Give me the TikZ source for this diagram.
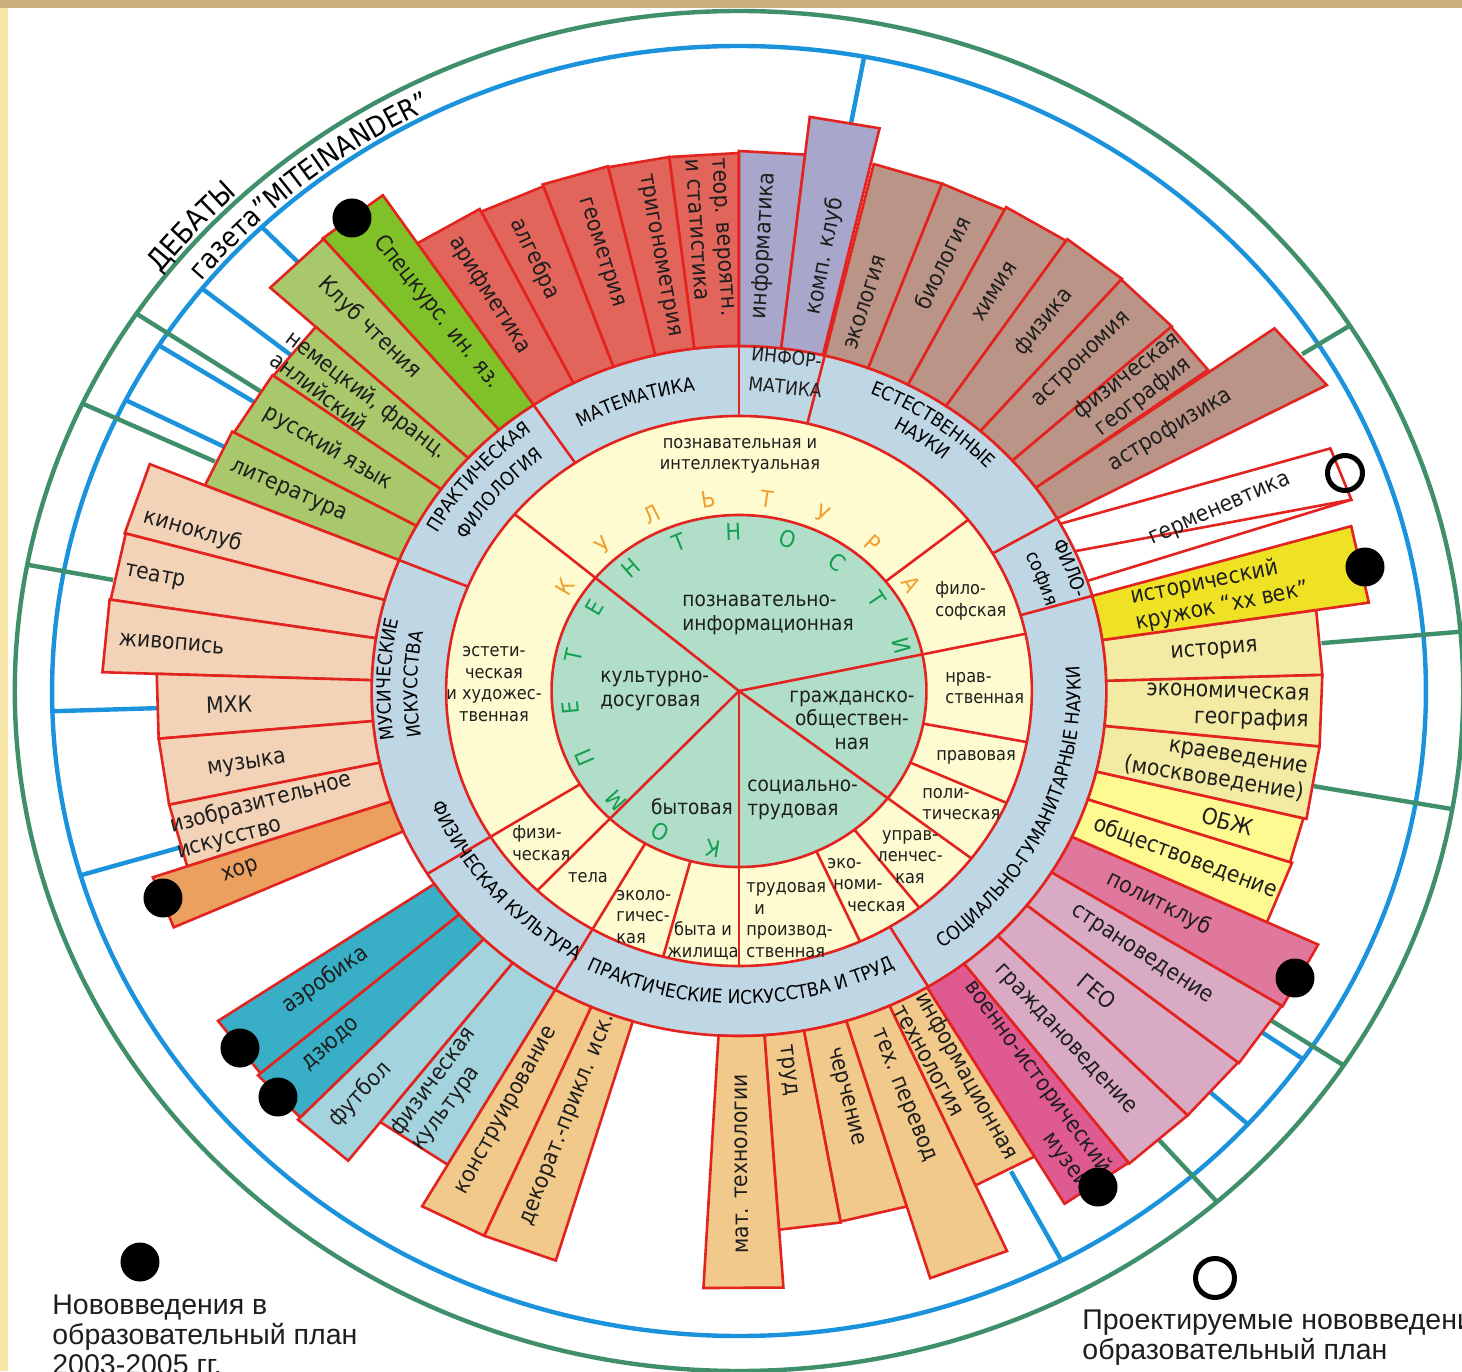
\documentclass[tikz,border=0pt]{standalone}
\usepackage{fontspec}
\setmainfont{DejaVu Sans}[FakeStretch=0.9]
\newfontfamily\legfont{Liberation Sans}
\usetikzlibrary{decorations.text}
\definecolor{cred}{HTML}{E2231F}
\definecolor{cblue}{HTML}{1A93DC}
\definecolor{cgreen}{HTML}{3F8F6B}
\definecolor{cyellow}{HTML}{FFFBD0}
\definecolor{cmint}{HTML}{B0DEC9}
\definecolor{cring}{HTML}{BFD6E4}
\definecolor{cmath}{HTML}{E1655B}
\definecolor{cinf}{HTML}{A8A6CA}
\definecolor{cnat}{HTML}{BA9487}
\definecolor{cspec}{HTML}{80C028}
\definecolor{cphil}{HTML}{A9C86B}
\definecolor{cmus}{HTML}{F2D3B8}
\definecolor{chor}{HTML}{EBA060}
\definecolor{cteal}{HTML}{38AFC6}
\definecolor{clteal}{HTML}{A3D3DC}
\definecolor{ctan}{HTML}{F1C98B}
\definecolor{cmil}{HTML}{E05A92}
\definecolor{cpink}{HTML}{D8AAC3}
\definecolor{cpol}{HTML}{E0789E}
\definecolor{cyl}{HTML}{FFF992}
\definecolor{ckh}{HTML}{F3EBA4}
\definecolor{chist}{HTML}{EFE224}
\definecolor{corange}{HTML}{F0A030}
\definecolor{cgtext}{HTML}{12A050}
\definecolor{ctext}{HTML}{1E1E1E}
\definecolor{cframe}{HTML}{C9B07A}
\definecolor{cside}{HTML}{F8E6A8}
\newcommand\rfont{\fontsize{9.5}{11}\selectfont}
\newcommand\wb[4]{\path[barsty,fill=#1] (#2:345) -- (#2:#4) -- (#3:#4) -- (#3:345) arc (#3:#2:345) -- cycle;}
\tikzset{
  rl/.style={draw=cred, line width=1.3pt},
  barsty/.style={draw=cred, line width=1.3pt, line join=miter},
  bline/.style={draw=cblue, line width=2.2pt},
  gline/.style={draw=cgreen, line width=2.2pt},
  ro/.style={rotate={atan2(sin(#1),1.065*cos(#1))}},
  ri/.style={rotate={atan2(sin(#1),1.065*cos(#1))+180}},
  lt/.style={rotate={atan2(sin(#1),1.065*cos(#1))-90}},
  blab/.style={font=\fontsize{11.3}{13.2}\selectfont, inner sep=0pt, text=ctext},
  ylab/.style={font=\fontsize{9}{10.8}\selectfont, inner sep=0pt, text=ctext, align=center},
  glab/.style={font=\fontsize{10.3}{11.7}\selectfont, inner sep=0pt, text=ctext, align=center},
  kl/.style={font=\fontsize{11.5}{13}\selectfont, inner sep=0pt},
  legf/.style={font=\legfont\fontsize{14.25}{15}\selectfont, inner sep=0pt, text=ctext},
  rtext/.style={decorate, decoration={text along path, text align=center, text={|\rfont|#1}}},
  blackdot/.style={circle, fill=black, minimum size=19.5pt, inner sep=0pt},
  hollowdot/.style={circle, draw=black, line width=2.5pt, minimum size=17.5pt, inner sep=0pt},
}
\begin{document}
\begin{tikzpicture}[x=0.5325pt,y=0.5pt]
\useasboundingbox (-369.5pt,-340pt) rectangle (361.5pt,345.5pt);
% ---------- frame (pixel scope) ----------
\begin{scope}[x=0.5pt,y=-0.5pt]
  \fill[white] (-739,-691) rectangle (723,680);
  \fill[cside] (-739,-691) rectangle (-731,680);
  \fill[cframe] (-739,-691) rectangle (723,-683);
\end{scope}
% ---------- outer circles ----------
\draw[gline] (0,0) circle (680);
\draw[bline] (0,0) circle (645);
% ---------- radial connectors ----------
\draw[bline] (134:596) -- (134:645);
\draw[bline] (141.4:539) -- (141.4:645);
\draw[bline] (147.6:538) -- (147.6:645);
\draw[bline] (153.2:542) -- (153.2:645);
\draw[bline] (181.8:547) -- (181.8:645);
\draw[bline] (196.6:545) -- (196.6:645);
\draw[bline] (298:544) -- (298:645);
\draw[bline] (317.8:598) -- (317.8:645);
\draw[bline] (325.2:597) -- (325.2:645);
\draw[bline] (79.5:578) -- (79.5:645);
\draw[gline] (146.3:540) -- (146.3:680);
\draw[gline] (155:543) -- (155:680);
\draw[gline] (169.3:598) -- (169.3:680);
\draw[gline] (311.3:598) -- (311.3:680);
\draw[gline] (326.6:599) -- (326.6:680);
\draw[gline] (350:548) -- (350:680);
\draw[gline] (5:549) -- (5:680);
\draw[gline] (32.5:627) -- (32.5:680);
% ---------- rings ----------
\fill[cring] (0,0) circle (345);
\fill[cyellow] (0,0) circle (275);
\fill[cmint] (0,0) circle (176);
\foreach \ang in {140,12,322.5,270,226.5} {\draw[rl] (0,0) -- (\ang:275);}
\foreach \ang in {212,240} {\draw[rl] (\ang:176) -- (\ang:345);}
\foreach \ang in {38.5,349.3,336,308,294.4,255} {\draw[rl] (\ang:176) -- (\ang:275);}
\foreach \ang in {124,90,76.5,30,16,301,157.7} {\draw[rl] (\ang:275) -- (\ang:345);}
\draw[rl] (0,0) circle (176);
\draw[rl] (0,0) circle (275);
\draw[rl] (0,0) circle (345);
% ---------- bars ----------
% mathematics
\wb{cmath}{90}{97}{538}
\wb{cmath}{97}{103.2}{538}
\wb{cmath}{103.2}{110}{539}
\wb{cmath}{110}{116.8}{537}
\wb{cmath}{116.8}{124}{540}
% informatics
\wb{cinf}{83.4}{90}{540}
\wb{cinf}{76.8}{83.4}{578}
% natural sciences
\wb{cnat}{69.4}{76.5}{542}
\wb{cnat}{62.6}{69.4}{542}
\wb{cnat}{55.7}{62.6}{545}
\wb{cnat}{48.9}{55.7}{547}
\wb{cnat}{41.9}{48.9}{546}
\wb{cnat}{36.1}{41.9}{545}
\path[barsty,fill=cnat] (30:345) -- (29:631) -- (35.8:620) -- (36.1:345) arc (36.1:30:345) -- cycle;
% philosophy
\path[barsty,fill=white] (29:345) -- (23.6:606) -- (18.4:606) -- (23.9:345) arc (23.9:29:345) -- cycle;
\draw[rl] (18.6:345) -- (18.4:606);
% philology
\wb{cspec}{124}{130.8}{598}
\wb{cphil}{130.8}{137.5}{597}
\wb{cphil}{137.5}{144.2}{539}
\wb{cphil}{144.2}{151.4}{540}
\wb{cphil}{151.4}{157.7}{542}
% arts
\wb{cmus}{157.7}{164.7}{598}
\wb{cmus}{164.7}{171.2}{597}
\wb{cmus}{171.2}{178.2}{598}
\wb{cmus}{178.2}{185}{547}
\wb{cmus}{185}{192}{547}
\wb{cmus}{192}{198.7}{547}
\wb{chor}{198.7}{204}{581}
% physical
\wb{cteal}{214}{220.4}{590}
\wb{cteal}{220.4}{226}{593}
\wb{clteal}{226}{232}{596}
\wb{clteal}{232}{240}{547}
% practical
\wb{ctan}{240}{246.3}{595}
\wb{ctan}{246.3}{253.2}{595}
\wb{ctan}{266.8}{274}{598}
\wb{ctan}{274}{280.2}{540}
\wb{ctan}{280.2}{287}{539}
\wb{ctan}{287}{294.2}{614}
\wb{ctan}{294.2}{300.8}{542}
% social
\wb{cmil}{300.8}{307.8}{597}
\wb{cpink}{307.8}{314.8}{598}
\wb{cpink}{314.8}{321.6}{598}
\wb{cpink}{321.6}{328.3}{599}
\wb{cpol}{328.3}{335}{600}
\wb{cyl}{335}{341.7}{547}
\wb{cyl}{341.7}{346.5}{545}
\wb{ckh}{346.5}{354.2}{548}
\wb{ckh}{354.2}{361.7}{548}
\wb{ckh}{361.7}{368.5}{548}
\wb{chist}{368.5}{376}{598}
% ---------- bar labels ----------
\node[blab, ri=120.6] (l1) at (120.6:460) {арифметика};
\node[blab, ri=113.9] (l2) at (113.9:473) {алгебра};
\node[blab, ri=106.5] (l3) at (106.5:457) {геометрия};
\node[blab, ri=99.8] (l4) at (99.8:442) {тригонометрия};
\node[blab, ri=93.4, align=left] (l5) at (93.4:454) {теор. вероятн.\\и статистика};
\node[blab, ro=87] (l6) at (87:446) {информатика};
\node[blab, ro=79.5] (l7) at (79.5:442) {комп. клуб};
\node[blab, ro=73] (l8) at (73:406) {экология};
\node[blab, ro=66] (l9) at (66:469) {биология};
\node[blab, ro=59] (l10) at (59:466) {химия};
\node[blab, ro=52.2] (l11) at (52.2:467) {физика};
\node[blab, ro=45.7] (l12) at (45.7:462) {астрономия};
\node[blab, ro=39.3, align=center] (l13) at (39.3:481) {физическая\\география};
\node[blab, ro=32.8] (l14) at (32.8:482) {астрофизика};
\node[blab, rotate=24] (l15) at (21.8:487) {герменевтика};
\node[blab, ri=126.8] (l16) at (126.8:473) {Спецкурс. ин. яз.};
\node[blab, ri=133.7] (l17) at (133.7:502) {Клуб чтения};
\node[blab, ri=141.2, align=left] (l18) at (141.2:457) {немецкий, франц.\\анлийский};
\node[blab, ri=147.8] (l19) at (147.8:456) {русский язык};
\node[blab, ri=154.8] (l20) at (154.8:468) {литература};
\node[blab, ri=162.6] (l21) at (162.6:537) {киноклуб};
\node[blab, ri=168.3] (l22) at (168.3:560) {театр};
\node[blab, ri=174.9] (l23) at (174.9:535) {живопись};
\node[blab, ri=181.6] (l24) at (181.6:479) {МХК};
\node[blab, ri=189.1] (l25) at (189.1:468) {музыка};
\node[blab, ri=195.6, align=left] (l26) at (195.6:463) {изобразительное\\искусство};
\node[blab, ri=201.1] (l27) at (201.1:502) {хор};
\node[blab, ri=216.6] (l28) at (216.6:484) {аэробика};
\node[blab, ri=222.7] (l29) at (222.7:521) {дзюдо};
\node[blab, ri=228.6] (l30) at (228.6:538) {футбол};
\node[blab, ri=235.2, align=left] (l31) at (235.2:485) {физическая\\культура};
\node[blab, ri=242.6] (l32) at (242.6:473) {конструирование};
\node[blab, ri=249.6] (l33) at (249.6:458) {декорат.-прикл. иск.};
\node[blab, ri=270.3] (l34) at (270.3:473) {мат. технологии};
\node[blab, ro=276.8] (l35) at (276.8:382) {труд};
\node[blab, ro=283.8] (l36) at (283.8:418) {черчение};
\node[blab, ro=290.8] (l37) at (290.8:433) {тех. перевод};
\node[blab, ro=297.6, align=left] (l38) at (297.6:441) {информационная\\технология};
\node[blab, ro=304.5, align=right] (l39) at (304.5:478) {военно-исторический\\музей};
\node[blab, ro=311.2] (l40) at (311.2:464) {граждановедение};
\node[blab, ro=318.2] (l41) at (318.2:451) {ГЕО};
\node[blab, ro=325] (l42) at (325:461) {страноведение};
\node[blab, ro=331.7] (l43) at (331.7:448) {политклуб};
\node[blab, ro=338.4] (l44) at (338.4:451) {обществоведение};
\node[blab, ro=344.1] (l45) at (344.1:477) {ОБЖ};
\node[blab, ro=350.3, align=right] (l46) at (350.3:454) {краеведение\\(москвоведение)};
\node[blab, ro=358, align=right] (l47) at (358:459) {экономическая\\география};
\node[blab, ro=5.1] (l48) at (5.1:448) {история};
\node[blab, ro=12.2, align=left] (l49) at (12.2:462) {исторический\\кружок “хх век”};
% ---------- ring labels ----------
\path[rtext=ПРАКТИЧЕСКАЯ] (179.5:324) arc (179.5:99.5:324);
\path[rtext=ФИЛОЛОГИЯ] (179.5:297) arc (179.5:99.5:297);
\path[rtext=МАТЕМАТИКА] (149:303) arc (149:69:303);
\path[rtext=ЕСТЕСТВЕННЫЕ] (95:322) arc (95:15:322);
\path[rtext=НАУКИ] (95:300) arc (95:15:300);
\path[rtext=ФИЛО-] (61:329) arc (61:-19:329);
\path[rtext=софия] (61:301) arc (61:-19:301);
\path[rtext=МУСИЧЕСКИЕ] (218:327) arc (218:138:327);
\path[rtext=ИСКУССТВА] (218.8:302) arc (218.8:138.8:302);
\path[rtext=СОЦИАЛЬНО-ГУМАНИТАРНЫЕ НАУКИ] (-74:321) arc (-74:26:321);
\path[rtext=ПРАКТИЧЕСКИЕ ИСКУССТВА И ТРУД] (220.4:313) arc (220.4:320.4:313);
\path[rtext=ФИЗИЧЕСКАЯ КУЛЬТУРА] (180.5:310) arc (180.5:260.5:310);
\node[font=\fontsize{9.5}{15}\selectfont, inner sep=0pt, text=ctext, rotate=-6, align=left] (inf) at (82:322) {ИНФОР-\\МАТИКА};
% ---------- outer texts ----------
\path[decorate, decoration={text along path, text align=center, text={|\fontsize{14.5}{16}\selectfont|ДЕБАТЫ}}] (178.7:685) arc (178.7:98.7:685);
\path[decorate, decoration={text along path, text align=center, text={|\fontsize{14}{16}\selectfont|газета”MITEINANDER”}}] (169.3:650) arc (169.3:89.3:650);
% ---------- inner ring letters ----------
\foreach \ltr [count=\idx from 0] in {К,О,М,П,Е,Т,Е,Н,Т,Н,О,С,Т,И} {
  \pgfmathsetmacro\ang{261.1-18.8*\idx}
  \node[kl, lt=\ang, text=cgtext] (k\idx) at (\ang:159) {\ltr};
}
\foreach \ltr [count=\idx from 0] in {К,У,Л,Ь,Т,У,Р,А} {
  \pgfmathsetmacro\ang{147.5-16.3*\idx}
  \node[kl, lt=\ang, text=corange] (u\idx) at (\ang:194) {\ltr};
}
% ---------- pixel scope: inner labels, dots, legend ----------
\begin{scope}[x=0.5pt,y=-0.5pt]
  \node[ylab] (y1) at (1,-235) {познавательная и\\интеллектуальная};
  \node[ylab, anchor=west, align=left] (y2) at (196,-90) {фило-\\софская};
  \node[ylab, anchor=west, align=left] (y3) at (206,-3) {нрав-\\ственная};
  \node[ylab] (y4) at (237,66) {правовая};
  \node[ylab, anchor=west, align=left] (y5) at (183,113) {поли-\\тическая};
  \node[ylab] (y6) at (171,166) {управ-\\ленчес-\\кая};
  \node[ylab, anchor=west, align=left] (y7) at (88,194) {эко-\\\hspace*{3pt}номи-\\\hspace*{10pt}ческая};
  \node[ylab, anchor=west, align=left] (y8) at (7,229) {трудовая\\\hspace*{4pt}и\\производ-\\ственная};
  \node[ylab] (y9) at (-36,250) {быта и\\жилища};
  \node[ylab, anchor=west, align=left] (y10) at (-123,226) {эколо-\\гичес-\\кая};
  \node[ylab] (y11) at (-151,187) {тела};
  \node[ylab, anchor=west, align=left] (y12) at (-227,152) {физи-\\ческая};
  \node[ylab] (y13) at (-245,-7) {эстети-\\ческая\\и художес-\\твенная};
  \node[glab, anchor=west, align=left] (g1) at (-57,-76) {познавательно-\\информационная};
  \node[glab, anchor=west, align=left] (g2) at (-139,0) {культурно-\\досуговая};
  \node[glab] (g3) at (113,29) {гражданско-\\обществен-\\ная};
  \node[glab, anchor=west, align=left] (g4) at (8,109) {социально-\\трудовая};
  \node[glab] (g5) at (-47,116) {бытовая};
  % dots
  \node[blackdot] (d1) at (-387,-473) {};
  \node[blackdot] (d2) at (626,-124) {};
  \node[blackdot] (d3) at (-576,207) {};
  \node[blackdot] (d4) at (-499,357) {};
  \node[blackdot] (d5) at (-461,406) {};
  \node[blackdot] (d6) at (556,287) {};
  \node[blackdot] (d7) at (359,496) {};
  \node[hollowdot] (h1) at (606,-218) {};
  % legend
  \node[blackdot] (d8) at (-599,571) {};
  \node[hollowdot, minimum size=19.5pt] (h2) at (476,587) {};
  \node[legf, anchor=north west, align=left] (leg1) at (-687,603) {Нововведения в\\образовательный план\\2003-2005 гг.};
  \node[legf, anchor=north west, align=left] (leg2) at (343,618) {Проектируемые нововведения в\\образовательный план};
\end{scope}
\end{tikzpicture}
\end{document}
